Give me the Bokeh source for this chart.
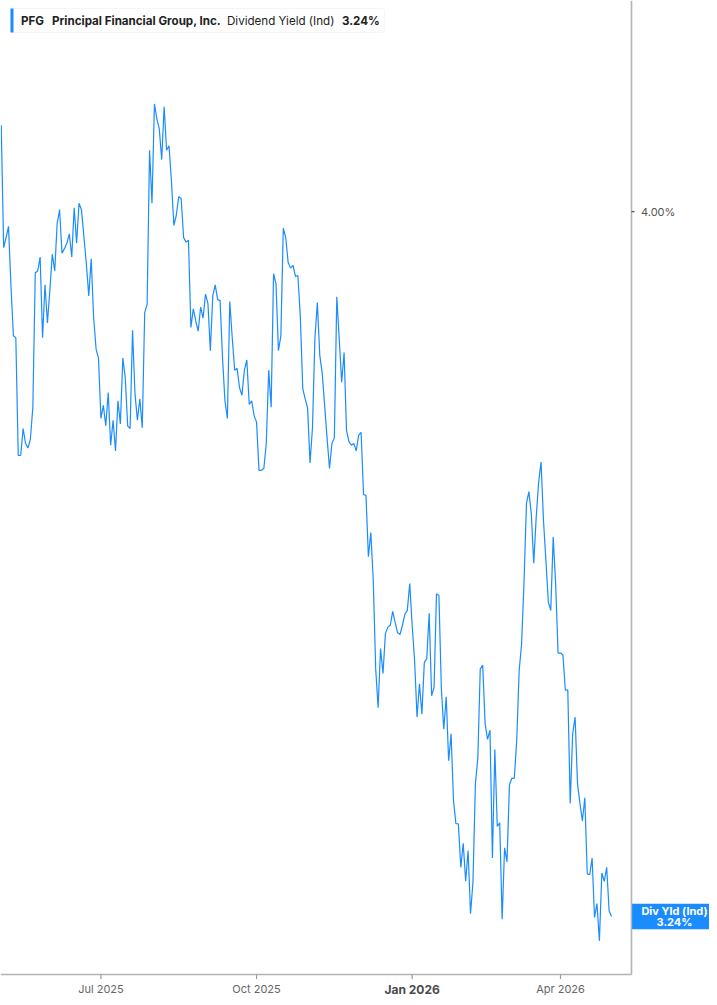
import pandas as pd
from bokeh.plotting import figure
from bokeh.models import Range1d, Label, BoxAnnotation
from bokeh.core.properties import value
from bokeh.embed import file_html
from bokeh.resources import INLINE

ticker_symbol = "PFG"
company_name = "Principal Financial Group, Inc."
metric_name = "Dividend Yield (Ind)"
badge_title = "Div Yld (Ind)"

market_holidays = ["2025-05-26", "2025-06-19", "2025-07-04", "2025-09-01", "2025-11-27",
                   "2025-12-25", "2026-01-01", "2026-01-19", "2026-02-16", "2026-04-03"]
dates = [d for d in pd.bdate_range("2025-05-01", "2026-05-01")
         if d.strftime("%Y-%m-%d") not in market_holidays]

div_yield = [
    4.093, 3.961, 3.972, 3.984, 3.920, 3.866, 3.864, 3.737, 3.737, 3.766,
    3.750, 3.745, 3.755, 3.789, 3.934, 3.936, 3.951, 3.864, 3.921, 3.880,
    3.915, 3.954, 3.936, 3.987, 4.002, 3.955, 3.960, 3.966, 3.976, 3.951,
    4.004, 3.966, 4.009, 4.002, 3.973, 3.944, 3.909, 3.949, 3.886, 3.852,
    3.842, 3.777, 3.791, 3.769, 3.805, 3.748, 3.775, 3.742, 3.796, 3.771,
    3.842, 3.821, 3.769, 3.766, 3.872, 3.804, 3.775, 3.798, 3.767, 3.891,
    3.900, 4.066, 4.009, 4.116, 4.100, 4.089, 4.056, 4.113, 4.066, 4.071,
    4.033, 3.985, 3.996, 4.016, 4.014, 3.972, 3.967, 3.969, 3.875, 3.895,
    3.882, 3.871, 3.897, 3.885, 3.911, 3.901, 3.850, 3.909, 3.921, 3.905,
    3.904, 3.843, 3.796, 3.777, 3.903, 3.864, 3.829, 3.831, 3.810, 3.802,
    3.829, 3.840, 3.792, 3.796, 3.780, 3.773, 3.721, 3.721, 3.723, 3.750,
    3.829, 3.789, 3.933, 3.922, 3.850, 3.866, 3.982, 3.972, 3.945, 3.939,
    3.942, 3.930, 3.931, 3.887, 3.809, 3.798, 3.788, 3.729, 3.767, 3.863,
    3.902, 3.845, 3.826, 3.791, 3.756, 3.723, 3.750, 3.756, 3.908, 3.863,
    3.816, 3.848, 3.764, 3.752, 3.748, 3.750, 3.742, 3.759, 3.762, 3.695,
    3.694, 3.628, 3.654, 3.602, 3.507, 3.465, 3.529, 3.502, 3.545, 3.552,
    3.554, 3.569, 3.557, 3.546, 3.544, 3.554, 3.566, 3.570, 3.599, 3.554,
    3.516, 3.455, 3.491, 3.458, 3.514, 3.518, 3.567, 3.478, 3.487, 3.588,
    3.586, 3.486, 3.442, 3.477, 3.408, 3.437, 3.365, 3.340, 3.340, 3.293,
    3.319, 3.278, 3.311, 3.243, 3.277, 3.383, 3.411, 3.507, 3.511, 3.448,
    3.431, 3.441, 3.303, 3.420, 3.337, 3.341, 3.237, 3.314, 3.299, 3.382,
    3.389, 3.389, 3.430, 3.505, 3.534, 3.600, 3.685, 3.698, 3.674, 3.621,
    3.670, 3.708, 3.730, 3.667, 3.624, 3.579, 3.570, 3.649, 3.599, 3.524,
    3.524, 3.522, 3.484, 3.484, 3.362, 3.437, 3.455, 3.383, 3.362, 3.343,
    3.368, 3.286, 3.285, 3.303, 3.239, 3.254, 3.214, 3.287, 3.278, 3.293,
    3.246, 3.240,
]

y_ticks = [4.0]
tick_months = [(2025, 7), (2025, 10), (2026, 1), (2026, 4)]
bold_tick_month = (2026, 1)

n = min(len(dates), len(div_yield))
dates = dates[:n]
div_yield = div_yield[:n]
x_index = list(range(n))
last_text = f"{div_yield[-1]:.2f}%"

tick_idx = [next(i for i, d in enumerate(dates) if (d.year, d.month) == ym) for ym in tick_months]
tick_text = [dates[i].strftime("%b %Y") for i in tick_idx]
bold_pos = tick_months.index(bold_tick_month)

# ---- layout: the plot area (axes box) and the full canvas ----
W, H = 709, 997            # canvas
FW, FH = 631, 974          # axes box inside canvas (right axis at FW, bottom axis at FH)
X0, X1 = -0.3, 259.2       # index range covered by the axes box
Y0, Y1 = 3.1775, 4.2275    # yield range covered by the axes box
XPP = (X1 - X0) / FW
YPP = (Y1 - Y0) / FH
XR_END = X0 + W * XPP
YR_START = Y1 - H * YPP

BLUE = "#1a8cff"
AXIS_GRAY = "#b3b3b3"
FONT = "Inter"

p = figure(width=W, height=H,
           x_range=Range1d(X0, XR_END), y_range=Range1d(YR_START, Y1),
           output_backend="svg", toolbar_location=None,
           x_axis_location=None, y_axis_location=None,
           min_border=0, min_border_left=0, min_border_right=0, min_border_top=0, min_border_bottom=0,
           background_fill_color="white", border_fill_color="white")
p.outline_line_color = None
p.xgrid.visible = False
p.ygrid.visible = False

# data line
p.line(x_index, div_yield, line_color=BLUE, line_width=1.2)

# axis lines
p.segment(x0=[X0, X1], y0=[Y0, Y0], x1=[X1, X1], y1=[Y0, Y1], line_color=AXIS_GRAY, line_width=1.6)

# bottom ticks + labels
p.segment(x0=tick_idx, y0=[Y0] * len(tick_idx), x1=tick_idx, y1=[Y0 - 4.5 * YPP] * len(tick_idx),
          line_color="#9a9a9a", line_width=1.2)
reg = [i for i in range(len(tick_idx)) if i != bold_pos]
p.text(x=[tick_idx[i] for i in reg], y=[Y0] * len(reg), text=[tick_text[i] for i in reg],
       y_offset=14.5, text_align="center", text_baseline="middle",
       text_font=value(FONT), text_font_size="11px", text_color="#666666")
p.text(x=[tick_idx[bold_pos]], y=[Y0], text=[tick_text[bold_pos]],
       y_offset=14.5, text_align="center", text_baseline="middle",
       text_font=value(FONT), text_font_size="12px", text_font_style="bold", text_color="#4a4a4a")

# right ticks + labels
p.segment(x0=[X1] * len(y_ticks), y0=y_ticks, x1=[X1 + 3 * XPP] * len(y_ticks), y1=y_ticks,
          line_color="#555555", line_width=1.2)
p.text(x=[X1] * len(y_ticks), y=y_ticks, text=[f"{t:.2f}%" for t in y_ticks],
       x_offset=9.5, text_align="left", text_baseline="middle",
       text_font=value(FONT), text_font_size="11px", text_color="#555555")

# last value badge
p.quad(left=[X1 + 0.6 * XPP], right=[XR_END], top=[div_yield[-1] + 12.8 * YPP],
       bottom=[div_yield[-1] - 12.8 * YPP], fill_color=BLUE, line_color=None)
p.text(x=[X1 + 43 * XPP] * 2, y=[div_yield[-1]] * 2, text=[badge_title, last_text],
       y_offset=[-5.5, 5.8], text_align="center", text_baseline="middle",
       text_font=value(FONT), text_font_size="11px", text_font_style="bold", text_color="white")

# header box
p.add_layout(BoxAnnotation(left=10, right=384, top=H - 8, bottom=H - 32,
                           left_units="screen", right_units="screen", top_units="screen", bottom_units="screen",
                           fill_color="white", fill_alpha=1.0, line_color="#e2e2e2", line_width=1,
                           border_radius=3))
p.add_layout(BoxAnnotation(left=10, right=13, top=H - 8, bottom=H - 32,
                           left_units="screen", right_units="screen", top_units="screen", bottom_units="screen",
                           fill_color=BLUE, fill_alpha=1.0, line_color=None))
for txt, xpos, style in [(ticker_symbol, 20.5, "bold"), (company_name, 51.5, "bold"),
                         (metric_name, 226.5, "normal"), (last_text, 341.5, "bold")]:
    p.add_layout(Label(x=xpos, y=H - 20.5, x_units="screen", y_units="screen", text=txt,
                       text_align="left", text_baseline="middle", text_font=FONT,
                       text_font_style=style, text_font_size="11.6px", text_color="#222222"))

open("out.html", "w").write(file_html(p, INLINE, "PFG Dividend Yield"))
